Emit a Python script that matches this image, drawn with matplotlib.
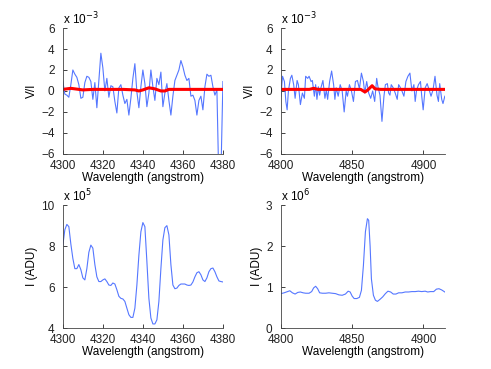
import matplotlib.pyplot as plt
import numpy as np

plt.rcParams['font.family'] = ['Liberation Sans', 'DejaVu Sans']

# ---- data ----
# Hgamma region, V/I in units of 1e-3
wl_hg = np.arange(4300, 4381)
vi_hg = [0.9, -0.3, -0.4, -0.6, 0.6, 2.0, 1.6, 1.3, 0.6, -0.7,
         -0.6, 0.8, 1.4, 1.3, 0.9, -0.8, 0.8, -1.6, 1.0, 3.6,
         2.2, 0.0, 1.2, -0.6, 0.5, 0.4, -1.0, -2.1, 0.3, 0.6,
         -0.4, -1.2, -0.8, -2.3, -0.7, 1.2, 2.6, -0.1, -1.6, 0.4,
         2.0, 0.7, -1.5, -0.2, 2.0, 0.4, -0.9, 1.2, 0.6, 1.8,
         -1.5, -0.2, 0.7, -0.9, -2.3, -0.5, 1.0, 1.5, 2.0, 2.9,
         2.3, 1.5, 1.0, 1.2, -0.5, -0.4, -0.9, -2.3, -0.9, -0.5,
         -1.8, 0.4, 1.6, 1.4, 1.5, 0.4, -0.4, 0.1, -9.0, -8.0,
         0.9]
wl_hg_fit = [4300, 4304, 4306, 4310, 4315, 4320, 4330, 4336, 4338, 4340,
             4343, 4346, 4349, 4351, 4353, 4360, 4370, 4380]
fit_hg = [0.15, 0.25, 0.2, 0.1, 0.15, 0.15, 0.15, 0.1, 0.0, 0.1,
          0.3, 0.2, 0.0, 0.0, 0.15, 0.15, 0.15, 0.15]

# Hbeta region, V/I in units of 1e-3
wl_hb = [4800, 4801.2, 4802.5, 4803.5, 4804.4, 4805.3, 4806.7, 4807.7, 4809, 4810,
         4811.4, 4812.3, 4813.7, 4815.1, 4816.5, 4817.4, 4818.8, 4819.8, 4821.2, 4822.1,
         4823.5, 4824.4, 4825.3, 4826.3, 4827.2, 4828.1, 4829.5, 4830.9, 4831.9, 4832.8,
         4834.2, 4835.6, 4837, 4837.9, 4838.8, 4840.2, 4841.6, 4843, 4844.4, 4845.8,
         4846.7, 4848.1, 4849.5, 4850.9, 4852.3, 4853.7, 4855.1, 4856.5, 4857.9, 4858.8,
         4860.2, 4861.6, 4863, 4864.4, 4865.8, 4867.2, 4868.1, 4869.5, 4870.9, 4872.3,
         4873.3, 4874.7, 4875.6, 4876.5, 4877.4, 4878.8, 4880.2, 4881.6, 4882.6, 4883.5,
         4884.9, 4886.3, 4887.7, 4889.1, 4890.5, 4891.9, 4893.3, 4894.2, 4895.1, 4896.5,
         4897.9, 4898.8, 4899.8, 4901.2, 4902.6, 4904, 4905.3, 4906.7, 4908.1, 4909.5,
         4910.5, 4911.4, 4912.8, 4913.7, 4915]
vi_hb = [-0.5, 1.4, 0.9, -1.0, -1.8, 0.0, 1.2, 1.5, 0.6, -0.7,
         1.0, 0.6, -1.3, -0.2, -0.7, 1.4, 1.2, 1.4, 0.9, 1.0,
         -0.5, 0.6, -0.8, 0.4, -0.4, 0.3, 1.0, -0.7, 0.1, -0.8,
         0.9, 1.9, 0.6, -0.8, 0.3, -0.5, 0.6, 0.0, -2.0, 0.0,
         -0.5, 0.6, 0.0, -1.0, 0.9, 1.0, 0.2, 1.7, 0.9, -0.2,
         0.9, -0.2, -0.7, 0.0, -1.0, 1.2, 0.4, -0.4, -2.9, -0.5,
         0.6, 0.7, -0.2, -0.4, 0.6, 0.3, -0.2, -0.8, 0.6, 0.4,
         0.0, -0.5, 0.9, 1.4, 1.7, 0.0, 0.6, -1.0, 0.0, 0.6,
         0.9, -0.5, -1.8, 0.3, 0.7, 0.1, -0.5, 0.1, 1.4, -0.4,
         -1.0, 0.7, -0.8, -1.2, -0.5]
wl_hb_fit = [4800, 4820, 4823, 4826, 4850, 4856, 4859, 4861, 4864, 4866, 4870, 4915]
fit_hb = [0.15, 0.15, 0.25, 0.15, 0.15, 0.15, -0.1, 0.1, 0.5, 0.2, 0.15, 0.15]

# Intensity, Hgamma in units of 1e5 ADU
int_hg = [8.05, 8.8, 9.06, 8.95, 8.1, 7.4, 6.9, 6.9, 7.1, 6.85,
          6.45, 6.35, 6.9, 7.7, 8.05, 7.9, 7.1, 6.5, 6.27, 6.27,
          6.35, 6.4, 6.27, 6.1, 6.08, 6.2, 6.15, 5.87, 5.55, 5.45,
          5.42, 5.3, 4.97, 4.65, 4.52, 4.52, 4.97, 6.1, 7.55, 8.7,
          9.15, 8.95, 7.25, 5.45, 4.49, 4.2, 4.2, 4.4, 5.3, 6.9,
          8.3, 8.9, 9.0, 8.55, 7.1, 6.1, 5.92, 5.95, 6.08, 6.15,
          6.15, 6.15, 6.1, 6.08, 6.1, 6.25, 6.5, 6.7, 6.75, 6.6,
          6.35, 6.27, 6.45, 6.75, 6.9, 6.93, 6.75, 6.5, 6.3, 6.27,
          6.25]

# Intensity, Hbeta in units of 1e6 ADU
wl_hb_int = [4800, 4802.3, 4804.7, 4806.3, 4808.1, 4810, 4811.9, 4813.7, 4815.6, 4817.4,
             4819.8, 4821.6, 4823, 4824.4, 4825.8, 4827.2, 4829.1, 4831.4, 4833.7, 4836,
             4838.4, 4840.7, 4843, 4845.3, 4847.2, 4848.6, 4850, 4851.4, 4853.3, 4855.1,
             4856.5, 4857.9, 4859.3, 4860.7, 4861.6, 4862.6, 4863.5, 4864.9, 4866.3, 4867.7,
             4869.5, 4871.4, 4873.3, 4875.1, 4877, 4878.8, 4880.7, 4882.6, 4884.9, 4887.2,
             4889.5, 4891.9, 4894.2, 4896.5, 4898.8, 4901.2, 4903, 4904.9, 4907.2, 4909.1,
             4910.9, 4912.8, 4915]
int_hb = [0.84, 0.86, 0.89, 0.91, 0.86, 0.83, 0.87, 0.88, 0.86, 0.85,
          0.85, 0.89, 0.98, 1.02, 0.96, 0.86, 0.85, 0.85, 0.86, 0.85,
          0.84, 0.81, 0.80, 0.83, 0.90, 0.88, 0.78, 0.72, 0.72, 0.75,
          0.92, 1.53, 2.35, 2.67, 2.63, 2.0, 1.2, 0.8, 0.68, 0.65,
          0.70, 0.76, 0.84, 0.90, 0.88, 0.83, 0.83, 0.86, 0.86, 0.88,
          0.88, 0.89, 0.89, 0.90, 0.89, 0.90, 0.88, 0.89, 0.89, 0.95,
          0.96, 0.93, 0.88]

blue = '#5577ff'
fs = 8.5


def style(ax, ylabel, expo):
    ax.spines['top'].set_visible(False)
    ax.spines['right'].set_visible(False)
    for s in ('left', 'bottom'):
        ax.spines[s].set_linewidth(0.6)
        ax.spines[s].set_color('#444444')
    ax.tick_params(direction='in', length=3, width=0.6, labelsize=fs, colors='#222222')
    ax.tick_params(axis='y', pad=6)
    ax.tick_params(axis='x', pad=4.5)
    ax.set_xlabel('Wavelength (angstrom)', fontsize=fs, labelpad=0)
    ax.set_ylabel(ylabel, fontsize=fs, labelpad=2)
    ax.text(0.0, 1.005, r'x 10$^{%d}$' % expo, transform=ax.transAxes,
            fontsize=fs, ha='left', va='bottom')


fig = plt.figure(figsize=(4.91, 3.69), dpi=100)

ax1 = fig.add_axes([0.128, 0.583, 0.326, 0.341])
ax1.plot(wl_hg, vi_hg, color=blue, lw=0.8)
ax1.plot(wl_hg_fit, fit_hg, color='red', lw=2.2)
ax1.set_xlim(4300, 4380)
ax1.set_ylim(-6, 6)
ax1.set_xticks([4300, 4320, 4340, 4360, 4380])
ax1.set_yticks([-6, -4, -2, 0, 2, 4, 6])
style(ax1, 'V/I', -3)

ax2 = fig.add_axes([0.572, 0.583, 0.334, 0.341])
ax2.plot(wl_hb, vi_hb, color=blue, lw=0.8)
ax2.plot(wl_hb_fit, fit_hb, color='red', lw=2.2)
ax2.set_xlim(4800, 4915)
ax2.set_ylim(-6, 6)
ax2.set_xticks([4800, 4850, 4900])
ax2.set_yticks([-6, -4, -2, 0, 2, 4, 6])
style(ax2, 'V/I', -3)

ax3 = fig.add_axes([0.128, 0.111, 0.326, 0.333])
ax3.plot(wl_hg, int_hg, color=blue, lw=0.8)
ax3.set_xlim(4300, 4380)
ax3.set_ylim(4, 10)
ax3.set_xticks([4300, 4320, 4340, 4360, 4380])
ax3.set_yticks([4, 6, 8, 10])
style(ax3, 'I (ADU)', 5)

ax4 = fig.add_axes([0.572, 0.111, 0.334, 0.333])
ax4.plot(wl_hb_int, int_hb, color=blue, lw=0.8)
ax4.set_xlim(4800, 4915)
ax4.set_ylim(0, 3)
ax4.set_xticks([4800, 4850, 4900])
ax4.set_yticks([0, 1, 2, 3])
style(ax4, 'I (ADU)', 6)

fig.savefig('out.png', dpi=100)
